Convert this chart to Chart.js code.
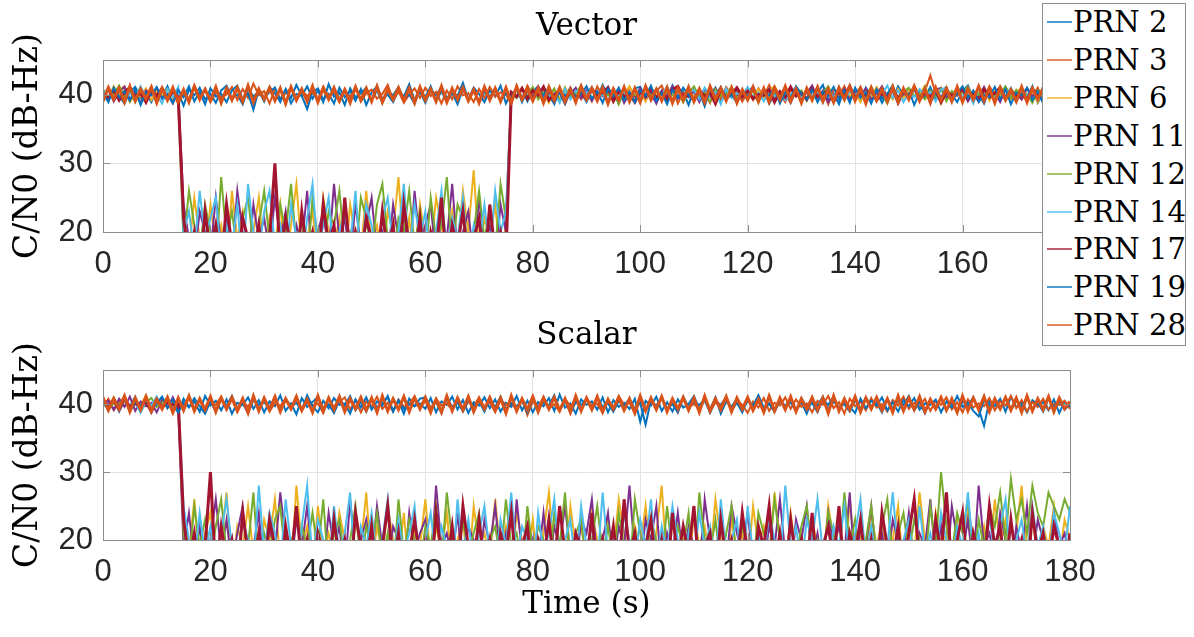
<!DOCTYPE html>
<html>
<head>
<meta charset="utf-8">
<script src="https://cdn.jsdelivr.net/npm/chart.js@4.4.1/dist/chart.umd.min.js"></script>
<style>
  html, body { margin: 0; padding: 0; background: #fff; }
  #page { position: relative; width: 1194px; height: 637px; overflow: hidden; }
  #vecWrap { position: absolute; left: 0; top: 0; width: 1194px; height: 290px; }
  #scaWrap { position: absolute; left: 0; top: 300px; width: 1194px; height: 337px; }
  #legend {
    position: absolute; left: 1042px; top: 3px; width: 144px; height: 343px;
    box-sizing: border-box; border: 1px solid #8c8c8c; background: #fff;
    font-family: 'DejaVu Serif', serif; font-size: 29px; color: #000;
  }
  .item { position: absolute; left: 0; height: 30px; display: flex; align-items: center; white-space: nowrap; }
  .swatch { width: 25px; height: 2px; margin-left: 4px; margin-right: 1px; opacity: 0.7; }
</style>
</head>
<body>
<div id="page">
  <div id="vecWrap"><canvas id="vecChart" width="1194" height="290"></canvas></div>
  <div id="scaWrap"><canvas id="scaChart" width="1194" height="337"></canvas></div>
  <div id="legend"></div>
</div>
<script>
// sample times (s)
const timeS = [
  0, 1, 2, 3, 4, 5, 6, 7, 8, 9,
  10, 11, 12, 13, 14, 15, 16, 17, 18, 19,
  20, 21, 22, 23, 24, 25, 26, 27, 28, 29,
  30, 31, 32, 33, 34, 35, 36, 37, 38, 39,
  40, 41, 42, 43, 44, 45, 46, 47, 48, 49,
  50, 51, 52, 53, 54, 55, 56, 57, 58, 59,
  60, 61, 62, 63, 64, 65, 66, 67, 68, 69,
  70, 71, 72, 73, 74, 75, 76, 77, 78, 79,
  80, 81, 82, 83, 84, 85, 86, 87, 88, 89,
  90, 91, 92, 93, 94, 95, 96, 97, 98, 99,
  100, 101, 102, 103, 104, 105, 106, 107, 108, 109,
  110, 111, 112, 113, 114, 115, 116, 117, 118, 119,
  120, 121, 122, 123, 124, 125, 126, 127, 128, 129,
  130, 131, 132, 133, 134, 135, 136, 137, 138, 139,
  140, 141, 142, 143, 144, 145, 146, 147, 148, 149,
  150, 151, 152, 153, 154, 155, 156, 157, 158, 159,
  160, 161, 162, 163, 164, 165, 166, 167, 168, 169,
  170, 171, 172, 173, 174, 175, 176, 177, 178, 179,
  180
];

const prnLabels = ['PRN 2', 'PRN 3', 'PRN 6', 'PRN 11', 'PRN 12', 'PRN 14', 'PRN 17', 'PRN 19', 'PRN 28'];
const prnColors = ['#0072BD', '#D95319', '#EDB120', '#7E2F8E', '#77AC30', '#4DBEEE', '#A2142F', '#0072BD', '#D95319'];
const prnWidths = [2, 2, 2, 2, 2, 2, 3, 2, 3];
const xTicks = [0, 20, 40, 60, 80, 100, 120, 140, 160, 180];
const yTicks = [20, 30, 40];

// ---- Vector tracking, C/N0 (dB-Hz) ----
const vecPrn2 = [
  40.6, 39.2, 40.9, 39.8, 38.7, 40.4, 41.1, 39.5, 40.2, 38.9,
  40.8, 39.6, 41.2, 39.1, 40.3, 38.4, 40.7, 39.9, 41.0, 39.3,
  40.1, 38.8, 40.6, 41.3, 39.4, 40.0, 38.6, 40.9, 39.7, 40.5,
  39.0, 41.1, 40.2, 38.9, 40.7, 39.5, 41.4, 39.8, 37.9, 40.4,
  40.9, 39.3, 40.1, 38.7, 41.0, 39.6, 40.5, 39.1, 40.8, 38.5,
  40.3, 41.2, 39.4, 40.0, 38.9, 40.6, 39.7, 41.5, 39.2, 40.4,
  38.8, 40.7, 39.9, 41.1, 39.5, 40.2, 38.6, 40.8, 39.3, 41.0,
  40.1, 38.9, 40.6, 39.7, 41.3, 38.7, 40.4, 39.6, 40.9, 39.0,
  40.5, 41.2, 39.4, 40.0, 38.6, 40.8, 39.8, 41.0, 39.1, 40.3,
  38.9, 40.7, 39.5, 41.4, 39.9, 40.2, 38.7, 40.6, 39.3, 40.9,
  41.1, 39.6, 40.0, 38.8, 40.5, 39.2, 41.3, 39.7, 40.4, 38.5,
  40.8, 39.4, 40.9, 39.9, 41.0, 38.9, 40.3, 39.6, 40.7, 39.1,
  40.2, 41.2, 39.5, 40.6, 38.7, 40.0, 39.8, 41.1, 39.3, 40.5,
  38.9, 40.8, 39.7, 40.3, 41.4, 39.2, 40.1, 38.6, 40.9, 39.5,
  40.4, 39.0, 41.0, 39.8, 40.6, 38.8, 40.2, 39.4, 41.2, 39.9,
  40.7, 38.5, 40.3, 39.6, 41.1, 39.2, 40.8, 39.7, 40.0, 38.9,
  40.5, 41.3, 39.4, 40.1, 38.7, 40.9, 39.8, 41.0, 39.3, 40.4,
  39.0, 40.6, 39.5, 41.2, 38.8, 40.2, 39.7, 40.8, 39.1, 40.5,
  39.8
];
const vecPrn3 = [
  39.7, 40.8, 39.3, 40.5, 41.2, 39.0, 40.1, 40.9, 38.8, 40.4,
  39.5, 41.0, 39.9, 40.6, 38.6, 40.2, 39.4, 41.3, 39.8, 40.7,
  38.9, 40.3, 39.6, 40.0, 41.1, 39.2, 40.8, 39.5, 41.6, 39.9,
  40.5, 38.7, 40.9, 39.4, 40.2, 41.0, 39.1, 40.6, 39.8, 40.3,
  39.3, 41.2, 39.7, 40.4, 38.9, 40.8, 39.6, 41.1, 39.0, 40.2,
  40.7, 39.4, 40.1, 41.4, 39.2, 40.5, 38.8, 40.0, 40.9, 39.5,
  41.0, 39.8, 40.4, 38.7, 40.6, 39.3, 41.2, 39.9, 40.2, 38.9,
  40.8, 39.5, 41.1, 39.7, 40.3, 40.0, 38.6, 40.9, 39.4, 41.3,
  39.9, 40.5, 38.8, 40.7, 39.6, 41.0, 39.2, 40.1, 40.8, 39.3,
  40.4, 39.0, 41.2, 39.8, 40.6, 38.9, 40.2, 39.5, 41.1, 39.7,
  40.0, 40.9, 39.1, 40.5, 41.3, 39.4, 40.7, 38.7, 40.3, 39.9,
  41.0, 39.6, 40.2, 38.8, 40.8, 39.3, 41.1, 39.9, 40.4, 39.0,
  40.6, 39.2, 40.9, 39.7, 41.4, 39.5, 40.1, 38.9, 40.7, 39.8,
  40.3, 39.4, 41.0, 39.6, 40.5, 38.6, 40.8, 39.9, 41.2, 39.3,
  40.0, 41.1, 39.5, 40.6, 39.0, 40.4, 39.8, 40.9, 38.7, 40.2,
  39.6, 41.3, 39.9, 40.5, 42.8, 40.1, 39.2, 40.7, 39.7, 41.0,
  39.4, 40.3, 38.9, 40.8, 39.6, 41.2, 39.9, 40.0, 41.1, 39.5,
  40.6, 39.3, 40.9, 39.8, 41.0, 39.1, 40.4, 39.7, 40.8, 39.5,
  40.2
];
const vecPrn6 = [
  40.3, 39.5, 41.2, 39.8, 40.6, 38.9, 40.1, 39.7, 40.9, 39.2,
  40.5, 39.9, 40.8, 39.4, 40.2, 22, 17, 25, 19, 16,
  24, 18, 21, 15, 26, 19, 23, 17, 20, 25,
  16, 22, 18, 24, 15, 21, 27, 17, 19, 23,
  16, 25, 20, 18, 22, 15, 24, 19, 17, 26,
  18, 21, 16, 23, 20, 28, 17, 22, 15, 24,
  19, 17, 25, 21, 16, 23, 18, 26, 20, 29,
  17, 22, 19, 24, 16, 21, 40.4, 39.6, 41.0, 39.3,
  40.7, 39.9, 40.2, 38.8, 40.5, 39.4, 41.1, 39.7, 40.0, 40.6,
  39.2, 40.8, 39.8, 40.3, 38.7, 40.9, 39.5, 40.1, 41.2, 39.6,
  40.4, 39.0, 40.7, 39.9, 40.2, 41.0, 39.3, 40.6, 38.9, 40.3,
  39.7, 40.9, 39.4, 40.5, 38.6, 40.1, 39.8, 41.1, 39.2, 40.4,
  40.0, 39.6, 40.8, 39.3, 40.6, 41.2, 39.9, 40.2, 38.8, 40.7,
  39.5, 40.4, 39.1, 40.9, 39.7, 40.1, 41.0, 39.4, 40.5, 39.8,
  40.3, 38.9, 40.7, 39.6, 41.1, 39.9, 40.2, 39.3, 40.8, 39.5,
  40.6, 39.7, 40.0, 41.3, 39.2, 40.4, 38.7, 40.9, 39.8, 40.1,
  39.4, 40.7, 39.9, 40.3, 41.0, 39.1, 40.5, 39.6, 40.8, 39.3,
  40.2, 41.1, 39.7, 40.4, 38.9, 40.6, 39.5, 40.9, 39.8, 40.0,
  40.3
];
const vecPrn11 = [
  39.6, 40.7, 39.0, 40.4, 41.1, 39.3, 40.2, 38.8, 40.6, 39.9,
  41.0, 39.4, 40.1, 38.7, 40.5, 24, 19, 16, 23, 20,
  17, 25, 18, 22, 16, 26, 20, 15, 24, 19,
  22, 17, 25, 19, 23, 16, 21, 18, 26, 15,
  20, 23, 17, 27, 19, 22, 16, 24, 18, 21,
  25, 17, 20, 16, 24, 19, 23, 15, 26, 18,
  21, 24, 16, 22, 19, 27, 17, 20, 23, 16,
  25, 18, 21, 15, 24, 20, 39.8, 40.9, 39.2, 40.5,
  39.6, 41.2, 39.9, 40.3, 38.9, 40.7, 39.4, 40.1, 41.0, 39.5,
  40.6, 39.1, 40.4, 39.8, 41.1, 39.3, 40.8, 38.8, 40.2, 39.7,
  40.9, 39.5, 40.3, 38.7, 40.6, 39.9, 41.2, 39.4, 40.0, 39.6,
  40.5, 38.9, 40.8, 39.7, 40.2, 41.0, 39.3, 40.6, 39.8, 40.1,
  39.4, 40.9, 39.1, 40.4, 39.8, 41.1, 39.6, 40.3, 38.8, 40.7,
  39.9, 40.2, 41.3, 39.5, 40.6, 38.9, 40.1, 39.7, 40.8, 39.2,
  40.4, 39.8, 40.9, 39.3, 40.0, 41.2, 39.6, 40.5, 38.7, 40.3,
  39.5, 40.8, 39.9, 40.1, 39.2, 40.7, 41.0, 39.4, 40.4, 39.8,
  40.6, 39.0, 40.3, 39.7, 41.1, 39.5, 40.2, 38.9, 40.8, 39.6,
  40.0, 39.3, 40.9, 39.8, 40.5, 39.1, 41.0, 39.7, 40.2, 39.4,
  40.6
];
const vecPrn12 = [
  40.8, 39.4, 40.1, 41.3, 39.7, 40.5, 38.9, 40.3, 39.6, 41.0,
  39.2, 40.6, 39.8, 40.9, 39.5, 18, 26, 21, 17, 24,
  20, 16, 28, 19, 23, 17, 22, 25, 18, 21,
  26, 19, 16, 24, 20, 27, 18, 22, 15, 25,
  19, 17, 23, 21, 26, 18, 20, 16, 25, 22,
  17, 24, 27, 19, 15, 22, 20, 26, 18, 23,
  16, 25, 19, 21, 28, 17, 24, 22, 18, 20,
  26, 19, 23, 17, 27, 22, 40.1, 39.5, 40.8, 39.9,
  41.1, 39.3, 40.4, 39.7, 40.9, 39.0, 40.6, 39.8, 40.2, 41.3,
  39.5, 40.7, 39.1, 40.3, 39.9, 40.8, 38.6, 40.5, 39.7, 40.0,
  39.4, 41.0, 39.8, 40.6, 39.2, 40.4, 39.9, 40.9, 38.9, 40.2,
  41.2, 39.6, 40.3, 39.0, 40.7, 39.8, 40.1, 41.1, 39.4, 40.6,
  39.7, 40.5, 38.8, 40.9, 39.5, 40.2, 39.9, 41.0, 39.3, 40.4,
  40.6, 39.1, 40.8, 39.7, 40.3, 41.2, 39.4, 40.0, 39.8, 40.7,
  39.2, 40.5, 39.9, 41.1, 39.6, 40.2, 38.7, 40.8, 39.5, 40.4,
  41.0, 39.8, 40.1, 39.3, 40.6, 39.7, 40.9, 39.0, 40.5, 39.9,
  40.3, 41.1, 39.6, 40.0, 39.4, 40.8, 39.8, 40.2, 41.2, 39.5,
  40.7, 39.9, 40.1, 38.8, 40.6, 39.7, 40.3, 41.0, 39.2, 40.5,
  39.8
];
const vecPrn14 = [
  39.8, 41.0, 39.3, 40.6, 38.9, 40.2, 39.7, 41.2, 39.5, 40.4,
  40.0, 38.7, 40.8, 39.6, 41.1, 20, 23, 17, 26, 19,
  22, 25, 16, 21, 18, 24, 15, 27, 20, 17,
  23, 26, 18, 21, 16, 24, 19, 15, 22, 27,
  17, 21, 25, 16, 20, 23, 18, 26, 15, 24,
  21, 16, 22, 25, 18, 20, 27, 17, 24, 19,
  23, 15, 20, 26, 17, 22, 19, 25, 16, 21,
  18, 24, 17, 26, 20, 23, 39.4, 40.7, 39.8, 40.3,
  39.1, 40.5, 41.0, 39.6, 40.2, 38.8, 40.9, 39.3, 40.6, 39.9,
  40.3, 41.1, 39.5, 40.0, 39.2, 40.7, 39.8, 40.4, 38.9, 41.0,
  39.7, 40.2, 39.4, 40.8, 39.9, 41.2, 39.1, 40.5, 39.6, 40.1,
  40.7, 39.3, 41.0, 39.8, 40.4, 38.6, 40.9, 39.5, 40.2, 39.9,
  41.1, 39.6, 40.3, 39.0, 40.8, 39.7, 40.5, 39.2, 40.0, 41.0,
  39.4, 40.6, 39.9, 40.2, 38.8, 40.7, 39.6, 41.1, 39.3, 40.4,
  39.8, 40.9, 39.2, 40.5, 39.7, 40.1, 41.3, 39.5, 40.6, 38.9,
  40.2, 39.6, 40.8, 39.9, 40.4, 39.0, 40.7, 41.1, 39.4, 40.3,
  39.7, 40.5, 38.7, 40.9, 39.8, 40.2, 39.3, 40.6, 39.9, 41.0,
  39.5, 40.3, 39.8, 40.7, 39.2, 41.2, 39.6, 40.4, 38.6, 40.8,
  39.9
];
const vecPrn17 = [
  40.1, 39.5, 40.7, 39.2, 40.4, 41.0, 39.7, 40.2, 38.9, 40.6,
  39.8, 40.9, 39.3, 40.5, 39.6, 22, 16, 20, 14, 23,
  17, 21, 15, 24, 18, 14, 22, 19, 16, 21,
  15, 19, 30, 16, 22, 18, 14, 23, 17, 20,
  15, 24, 18, 21, 14, 25, 17, 20, 16, 22,
  19, 15, 23, 17, 21, 14, 24, 18, 16, 22,
  14, 20, 17, 25, 15, 21, 18, 23, 16, 19,
  22, 15, 24, 17, 20, 16, 40.3, 39.7, 40.9, 39.4,
  40.6, 39.9, 41.1, 39.2, 40.0, 40.5, 38.8, 40.7, 39.6, 40.2,
  39.4, 40.8, 39.9, 40.3, 41.0, 39.1, 40.6, 39.7, 40.1, 38.9,
  40.4, 39.8, 40.9, 39.5, 40.2, 39.3, 40.7, 41.2, 39.6, 40.0,
  39.2, 40.6, 39.8, 40.3, 38.7, 40.8, 39.5, 40.1, 41.0, 39.7,
  40.5, 39.4, 40.0, 39.9, 40.7, 38.9, 40.4, 39.6, 41.1, 39.8,
  40.2, 39.3, 40.8, 39.7, 40.1, 40.6, 39.0, 40.4, 39.8, 41.2,
  39.5, 40.3, 39.9, 40.7, 39.2, 40.0, 39.6, 40.9, 39.4, 40.5,
  39.8, 41.0, 39.3, 40.2, 39.7, 40.6, 38.9, 40.4, 39.9, 40.1,
  40.8, 39.5, 40.3, 39.1, 40.7, 39.9, 40.2, 41.0, 39.4, 40.6,
  39.7, 40.0, 39.3, 40.8, 39.9, 40.4, 39.6, 40.9, 39.2, 40.3,
  39.8
];
const vecPrn19 = [
  40.2, 38.9, 41.0, 39.6, 40.5, 39.1, 40.8, 38.5, 40.3, 39.9,
  41.1, 39.4, 40.0, 38.8, 40.7, 39.6, 41.2, 39.0, 40.4, 38.6,
  40.9, 39.7, 40.1, 38.9, 40.6, 41.3, 39.3, 40.2, 37.8, 40.7,
  39.5, 40.4, 41.0, 39.2, 40.8, 38.7, 40.1, 39.8, 41.2, 39.4,
  40.6, 38.9, 41.5, 39.7, 40.3, 38.5, 40.9, 39.6, 40.2, 41.0,
  39.1, 40.7, 38.8, 40.4, 39.9, 41.1, 39.3, 40.0, 38.7, 40.8,
  39.6, 41.2, 39.0, 40.5, 38.9, 40.3, 39.8, 41.7, 39.2, 40.6,
  38.8, 40.4, 39.7, 40.9, 39.1, 40.2, 39.5, 41.0, 38.9, 40.7,
  39.3, 40.6, 39.9, 41.1, 39.0, 40.3, 38.7, 40.8, 39.6, 40.1,
  41.2, 39.4, 40.5, 38.8, 40.9, 39.7, 41.0, 39.2, 40.4, 38.9,
  40.6, 39.8, 41.3, 39.1, 40.2, 38.6, 40.7, 39.5, 41.0, 39.9,
  39.2, 40.5, 38.3, 40.8, 39.6, 41.1, 39.4, 40.0, 38.8, 40.6,
  39.7, 41.0, 39.0, 40.4, 39.9, 40.9, 38.7, 40.3, 39.5, 41.2,
  40.1, 39.3, 40.7, 38.9, 40.4, 39.8, 41.1, 39.2, 40.6, 38.8,
  41.0, 39.6, 40.3, 38.7, 40.8, 39.4, 40.1, 41.3, 39.0, 40.5,
  39.9, 40.7, 39.3, 41.0, 38.8, 40.4, 39.6, 40.9, 39.1, 40.2,
  41.2, 39.5, 40.6, 38.9, 40.0, 39.7, 41.1, 39.3, 40.8, 38.6,
  40.3, 39.9, 41.0, 39.2, 40.5, 38.7, 40.9, 39.6, 40.1, 39.4,
  40.6
];
const vecPrn28 = [
  39.0, 41.0, 39.3, 40.9, 38.9, 41.2, 39.1, 40.8, 39.4, 41.1,
  38.8, 40.9, 39.2, 41.0, 39.0, 40.7, 38.9, 41.2, 39.3, 40.8,
  39.1, 41.1, 38.8, 40.9, 39.2, 41.0, 39.0, 41.3, 38.9, 40.8,
  39.3, 41.0, 39.1, 40.9, 38.7, 41.1, 39.2, 40.8, 39.0, 41.2,
  38.9, 40.9, 39.3, 41.0, 39.1, 40.7, 38.8, 41.1, 39.2, 40.9,
  39.0, 41.2, 38.9, 40.8, 39.3, 41.0, 39.1, 40.9, 38.8, 41.1,
  39.2, 40.8, 39.0, 41.2, 38.9, 40.9, 39.3, 41.0, 39.1, 40.7,
  38.8, 41.1, 39.2, 40.9, 39.0, 41.0, 38.9, 41.2, 39.3, 40.8,
  39.1, 40.9, 38.8, 41.1, 39.2, 41.0, 39.0, 40.8, 38.9, 41.2,
  39.3, 40.9, 39.1, 41.0, 38.7, 40.8, 39.2, 41.1, 39.0, 40.9,
  38.9, 41.2, 39.3, 40.8, 39.1, 41.0, 38.8, 40.9, 39.2, 41.1,
  39.0, 40.8, 38.9, 41.2, 39.3, 40.9, 39.1, 41.0, 38.8, 40.7,
  39.2, 41.1, 39.0, 40.9, 38.9, 41.0, 39.3, 41.2, 39.1, 40.8,
  38.8, 40.9, 39.2, 41.1, 39.0, 40.8, 38.9, 41.0, 39.3, 41.2,
  39.1, 40.9, 38.7, 41.0, 39.2, 40.8, 39.0, 41.1, 38.9, 40.9,
  39.3, 41.2, 39.1, 40.8, 38.8, 41.0, 39.2, 40.9, 39.0, 41.1,
  38.9, 40.8, 39.3, 41.2, 39.1, 40.9, 38.8, 41.0, 39.2, 40.7,
  39.0, 41.1, 38.9, 40.9, 39.3, 41.0, 39.1, 40.8, 38.8, 41.2,
  39.6
];

// ---- Scalar tracking, C/N0 (dB-Hz) ----
const scaPrn2 = [
  40.2, 39.4, 40.9, 38.9, 40.5, 39.7, 41.1, 39.2, 40.6, 38.8,
  40.3, 41.0, 39.5, 40.1, 38.7, 40.8, 39.6, 40.4, 38.9, 41.2,
  39.8, 40.5, 39.1, 40.7, 38.6, 40.2, 39.9, 41.0, 39.3, 40.6,
  38.8, 40.4, 39.7, 41.3, 39.0, 40.1, 38.5, 40.9, 39.6, 40.3,
  41.1, 39.4, 40.0, 38.7, 40.6, 39.8, 41.2, 39.1, 40.4, 38.9,
  40.7, 39.5, 40.2, 41.0, 39.0, 40.5, 38.6, 40.8, 39.7, 40.1,
  39.3, 40.9, 38.8, 40.4, 39.9, 41.1, 39.2, 40.6, 38.7, 40.3,
  39.8, 41.0, 39.4, 40.7, 38.9, 40.2, 39.6, 41.2, 39.1, 40.5,
  38.8, 40.3, 39.7, 40.9, 39.0, 41.4, 39.5, 40.1, 38.6, 40.7,
  39.9, 40.4, 39.2, 41.0, 38.8, 40.6, 39.6, 40.2, 39.3, 40.8,
  37.4, 40.5, 39.8, 41.1, 39.0, 40.3, 38.9, 40.7, 39.5, 40.0,
  41.2, 39.3, 40.6, 38.7, 40.4, 39.9, 41.0, 39.1, 40.2, 38.8,
  40.8, 39.6, 41.3, 39.4, 40.1, 38.9, 40.5, 39.7, 40.9, 39.0,
  40.3, 38.6, 40.7, 39.8, 41.1, 39.2, 40.4, 39.5, 40.0, 38.9,
  40.6, 39.3, 41.0, 39.7, 40.2, 38.8, 40.8, 39.4, 40.5, 39.9,
  41.2, 39.1, 40.3, 38.7, 40.6, 39.6, 40.9, 39.2, 40.1, 38.9,
  40.4, 39.8, 41.0, 39.3, 36.8, 40.5, 39.7, 40.8, 38.9, 41.1,
  39.5, 40.2, 38.8, 40.6, 39.9, 40.3, 39.1, 40.7, 38.7, 40.4,
  39.6
];
const scaPrn3 = [
  39.6, 40.8, 39.1, 40.3, 41.0, 39.5, 40.6, 38.9, 40.2, 39.8,
  40.9, 39.3, 40.5, 38.7, 40.1, 39.7, 41.2, 39.4, 40.6, 38.9,
  40.3, 39.9, 41.1, 39.2, 40.7, 38.8, 40.4, 39.6, 41.0, 39.3,
  40.6, 38.9, 40.2, 39.7, 40.8, 39.4, 41.3, 39.0, 40.5, 39.8,
  40.1, 38.7, 40.9, 39.5, 40.3, 41.0, 39.2, 40.6, 38.8, 40.4,
  39.7, 41.1, 39.3, 40.2, 38.9, 40.7, 39.6, 40.0, 41.2, 39.4,
  40.5, 38.6, 40.8, 39.8, 40.1, 39.2, 40.9, 38.9, 40.4, 39.7,
  41.0, 39.5, 40.3, 38.8, 40.6, 39.9, 40.2, 39.1, 40.7, 38.4,
  40.4, 39.6, 41.1, 39.3, 40.0, 38.9, 40.8, 39.7, 40.5, 39.2,
  40.9, 39.8, 40.1, 38.7, 40.6, 39.4, 41.2, 39.9, 40.3, 38.5,
  40.7, 39.3, 40.2, 39.8, 41.0, 39.1, 40.5, 38.8, 40.9, 39.6,
  40.0, 39.4, 40.8, 38.9, 40.3, 39.7, 41.1, 39.2, 40.6, 39.9,
  38.7, 40.4, 39.5, 40.9, 39.0, 40.2, 39.8, 41.0, 39.3, 40.7,
  39.6, 40.1, 38.8, 40.5, 39.9, 41.2, 39.4, 40.3, 38.6, 40.8,
  39.7, 40.4, 39.1, 40.9, 39.5, 40.0, 38.9, 40.6, 39.8, 41.1,
  39.3, 40.2, 39.6, 40.8, 39.0, 40.5, 39.9, 41.0, 39.2, 40.3,
  38.8, 40.7, 39.5, 40.1, 39.7, 40.9, 39.1, 40.4, 39.8, 41.2,
  39.4, 40.6, 38.9, 40.3, 39.6, 40.8, 39.2, 40.0, 39.9, 40.5,
  39.3
];
const scaPrn6 = [
  40.4, 39.7, 41.0, 39.3, 40.6, 38.9, 40.2, 39.8, 41.3, 39.5,
  40.1, 40.7, 39.4, 40.3, 39.9, 23, 18, 26, 16, 21,
  24, 17, 20, 27, 15, 22, 19, 25, 18, 16,
  23, 20, 26, 17, 21, 15, 28, 19, 22, 16,
  25, 18, 21, 17, 24, 20, 15, 23, 19, 27,
  16, 22, 18, 25, 20, 17, 24, 15, 21, 19,
  26, 17, 22, 18, 24, 16, 20, 23, 15, 25,
  19, 21, 17, 26, 18, 22, 16, 24, 20, 17,
  23, 15, 21, 27, 18, 20, 16, 25, 19, 22,
  17, 24, 20, 15, 23, 18, 26, 21, 16, 22,
  19, 25, 17, 21, 28, 16, 23, 18, 20, 15,
  24, 19, 22, 17, 26, 20, 15, 23, 18, 21,
  16, 25, 19, 22, 17, 27, 20, 15, 24, 18,
  21, 17, 23, 19, 16, 25, 20, 22, 15, 26,
  18, 21, 16, 24, 19, 23, 17, 20, 25, 15,
  22, 18, 27, 20, 16, 24, 19, 21, 17, 23,
  15, 25, 20, 18, 22, 16, 26, 19, 23, 17,
  21, 28, 18, 24, 16, 22, 19, 25, 17, 23,
  20
];
const scaPrn11 = [
  39.9, 40.5, 39.2, 40.8, 39.6, 41.1, 39.0, 40.4, 39.7, 40.2,
  38.8, 40.6, 39.5, 41.0, 39.3, 19, 24, 17, 22, 15,
  20, 26, 18, 23, 16, 21, 25, 17, 19, 24,
  15, 22, 18, 27, 20, 16, 23, 19, 25, 17,
  21, 16, 24, 19, 22, 15, 26, 18, 20, 23,
  17, 25, 19, 16, 22, 20, 15, 24, 18, 21,
  23, 16, 28, 19, 21, 17, 24, 15, 22, 20,
  16, 23, 19, 25, 17, 21, 15, 26, 18, 22,
  20, 17, 24, 16, 22, 19, 25, 18, 15, 23,
  21, 26, 17, 20, 24, 16, 22, 19, 28, 18,
  16, 23, 20, 25, 15, 21, 18, 24, 17, 22,
  19, 15, 26, 20, 17, 23, 16, 25, 21, 18,
  24, 17, 20, 16, 22, 19, 26, 18, 15, 23,
  20, 25, 17, 21, 16, 24, 19, 22, 18, 27,
  15, 22, 19, 25, 17, 21, 16, 23, 20, 18,
  24, 16, 21, 19, 26, 17, 22, 15, 25, 20,
  18, 23, 16, 28, 19, 21, 17, 24, 20, 15,
  22, 18, 25, 17, 23, 20, 16, 24, 19, 21,
  17
];
const scaPrn12 = [
  40.6, 39.3, 40.1, 39.8, 41.2, 39.5, 40.7, 38.9, 40.3, 40.9,
  39.6, 40.2, 41.0, 39.4, 40.5, 21, 16, 25, 19, 23,
  17, 22, 26, 18, 20, 15, 24, 19, 27, 16,
  21, 18, 23, 25, 17, 20, 16, 22, 19, 24,
  18, 26, 15, 21, 23, 17, 20, 25, 16, 22,
  19, 24, 17, 21, 15, 26, 18, 23, 20, 16,
  22, 19, 25, 17, 27, 20, 16, 23, 18, 21,
  24, 15, 20, 22, 17, 26, 19, 21, 16, 25,
  18, 22, 20, 15, 24, 19, 27, 17, 21, 23,
  16, 20, 25, 18, 22, 17, 24, 19, 15, 26,
  21, 17, 23, 20, 16, 25, 18, 22, 19, 24,
  15, 27, 20, 18, 23, 16, 21, 25, 17, 22,
  19, 16, 24, 21, 18, 26, 20, 15, 23, 17,
  22, 25, 18, 20, 16, 24, 21, 17, 27, 19,
  23, 16, 20, 25, 18, 22, 26, 17, 21, 24,
  18, 23, 20, 16, 25, 19, 30, 22, 18, 24,
  21, 26, 17, 23, 19, 25, 22, 27, 20, 29,
  23, 26, 21, 28, 24, 22, 27, 25, 23, 26,
  24
];
const scaPrn14 = [
  40.0, 39.4, 40.7, 39.1, 40.9, 39.6, 40.3, 38.7, 40.5, 39.8,
  41.1, 39.5, 40.2, 39.7, 40.4, 25, 20, 17, 24, 18,
  22, 15, 21, 26, 19, 17, 23, 20, 16, 28,
  18, 24, 21, 16, 26, 19, 15, 22, 28, 17,
  23, 20, 16, 25, 18, 21, 27, 15, 22, 19,
  24, 17, 20, 26, 16, 23, 18, 21, 25, 15,
  20, 24, 17, 22, 19, 15, 26, 18, 23, 16,
  21, 25, 18, 16, 23, 19, 27, 17, 22, 20,
  15, 24, 18, 21, 26, 17, 20, 23, 16, 25,
  19, 22, 16, 27, 18, 21, 15, 24, 20, 17,
  23, 19, 26, 16, 22, 18, 25, 20, 15, 21,
  17, 24, 19, 22, 16, 26, 18, 20, 23, 15,
  25, 18, 21, 17, 24, 20, 16, 28, 19, 22,
  16, 23, 20, 26, 18, 15, 22, 19, 25, 17,
  21, 26, 17, 22, 16, 24, 19, 27, 18, 20,
  23, 15, 25, 18, 21, 17, 24, 20, 16, 22,
  19, 27, 18, 21, 15, 24, 17, 22, 26, 16,
  20, 23, 17, 25, 19, 22, 16, 24, 21, 18,
  25
];
const scaPrn17 = [
  40.3, 39.8, 40.6, 39.2, 40.9, 39.5, 40.1, 39.7, 40.4, 38.9,
  40.7, 39.6, 40.2, 39.9, 40.5, 23, 17, 21, 14, 19,
  30, 15, 22, 17, 20, 14, 24, 18, 16, 21,
  15, 23, 19, 14, 22, 17, 25, 16, 20, 14,
  21, 18, 15, 23, 17, 20, 14, 24, 19, 16,
  22, 15, 19, 25, 16, 21, 14, 18, 23, 17,
  20, 14, 24, 18, 16, 22, 15, 25, 19, 17,
  23, 16, 20, 14, 21, 18, 24, 15, 19, 22,
  14, 20, 17, 23, 16, 25, 18, 15, 21, 19,
  16, 24, 14, 20, 17, 22, 15, 26, 18, 21,
  15, 19, 23, 16, 20, 14, 24, 17, 22, 18,
  25, 15, 19, 21, 14, 23, 17, 20, 16, 24,
  18, 14, 22, 19, 25, 16, 21, 15, 23, 17,
  20, 16, 24, 14, 19, 22, 17, 25, 15, 21,
  18, 23, 16, 20, 14, 24, 19, 17, 22, 15,
  21, 26, 17, 19, 15, 23, 18, 27, 16, 20,
  24, 14, 21, 18, 16, 25, 19, 22, 15, 23,
  17, 20, 14, 24, 18, 21, 16, 22, 19, 15,
  21
];
const scaPrn19 = [
  40.5, 39.1, 40.8, 39.6, 41.0, 38.9, 40.3, 39.8, 40.6, 39.2,
  40.0, 41.1, 39.4, 40.7, 38.8, 40.2, 39.5, 40.9, 39.7, 38.6,
  40.4, 39.0, 40.7, 39.8, 41.2, 39.3, 40.1, 38.7, 40.6, 39.9,
  40.3, 39.5, 41.0, 38.9, 40.8, 39.6, 40.2, 39.1, 41.3, 39.7,
  38.8, 40.5, 39.4, 40.9, 39.9, 40.1, 38.6, 40.7, 39.5, 41.0,
  39.2, 40.4, 39.8, 41.2, 38.9, 40.6, 39.3, 40.0, 39.7, 40.8,
  41.0, 39.4, 40.3, 38.7, 40.9, 39.6, 40.2, 39.0, 40.6, 39.8,
  40.4, 38.9, 40.8, 39.5, 41.1, 39.2, 40.1, 39.7, 40.5, 38.8,
  40.9, 39.4, 40.2, 39.8, 41.3, 39.1, 40.6, 38.7, 40.3, 39.9,
  40.7, 39.2, 41.0, 39.6, 40.1, 38.9, 40.5, 39.8, 40.8, 39.3,
  40.2, 37.0, 40.6, 39.7, 40.9, 39.4, 40.0, 38.8, 41.1, 39.5,
  40.3, 39.9, 40.7, 39.2, 41.0, 38.6, 40.4, 39.6, 40.8, 39.1,
  40.5, 39.8, 41.2, 39.3, 40.1, 38.9, 40.6, 39.7, 40.3, 39.0,
  40.9, 39.5, 40.2, 38.8, 40.7, 39.9, 41.1, 39.3, 40.4, 39.6,
  38.7, 40.8, 39.4, 40.5, 39.8, 41.0, 39.1, 40.3, 38.9, 40.6,
  39.7, 40.9, 39.2, 40.1, 39.9, 40.7, 38.8, 40.4, 39.5, 41.2,
  39.6, 40.2, 39.0, 38.2, 40.6, 39.8, 40.3, 39.4, 40.9, 39.1,
  40.5, 39.7, 41.0, 39.3, 40.2, 38.9, 40.8, 39.6, 40.4, 39.2,
  40.0
];
const scaPrn28 = [
  41.0, 39.1, 40.8, 39.3, 41.2, 38.9, 40.9, 39.2, 41.1, 39.0,
  40.7, 39.3, 41.0, 38.8, 40.9, 39.1, 41.2, 39.0, 40.8, 39.2,
  41.1, 38.9, 40.9, 39.3, 41.0, 39.1, 40.8, 38.7, 41.2, 39.0,
  40.9, 39.2, 41.1, 38.9, 40.8, 39.3, 41.0, 39.1, 40.7, 38.8,
  41.2, 39.0, 40.9, 39.2, 41.1, 38.9, 40.8, 39.3, 41.0, 39.1,
  40.9, 38.8, 41.2, 39.0, 40.8, 39.2, 41.1, 38.9, 40.9, 39.3,
  41.0, 39.1, 40.7, 38.8, 41.2, 39.0, 40.9, 39.2, 41.1, 38.9,
  40.8, 39.3, 41.0, 39.1, 40.9, 38.7, 41.2, 39.0, 40.8, 39.2,
  41.1, 38.9, 40.9, 39.3, 41.0, 39.1, 40.8, 38.8, 41.2, 39.0,
  40.9, 39.2, 41.1, 38.9, 40.7, 39.3, 41.0, 39.1, 40.8, 38.8,
  41.2, 39.0, 40.9, 39.2, 41.1, 38.9, 40.8, 39.3, 41.0, 39.1,
  40.9, 38.8, 41.2, 39.0, 40.8, 39.2, 41.1, 38.9, 40.9, 39.3,
  41.0, 39.1, 40.7, 38.8, 41.2, 39.0, 40.9, 39.2, 41.1, 38.9,
  40.8, 39.3, 41.0, 39.1, 40.9, 38.7, 41.2, 39.0, 40.8, 39.2,
  41.1, 38.9, 40.9, 39.3, 41.0, 39.1, 40.8, 38.8, 41.2, 39.0,
  40.9, 39.2, 41.1, 38.9, 40.7, 39.3, 41.0, 39.1, 40.8, 38.8,
  41.2, 39.0, 40.9, 39.2, 41.1, 38.9, 40.8, 39.3, 41.0, 39.1,
  40.9, 38.8, 41.2, 39.0, 40.8, 39.2, 41.1, 38.9, 40.9, 39.3,
  40.4
];

const vectorSeries = [vecPrn2, vecPrn3, vecPrn6, vecPrn11, vecPrn12, vecPrn14, vecPrn17, vecPrn19, vecPrn28];
const scalarSeries = [scaPrn2, scaPrn3, scaPrn6, scaPrn11, scaPrn12, scaPrn14, scaPrn17, scaPrn19, scaPrn28];

const tickFont = { family: 'Liberation Sans', size: 31, lineHeight: 1 };
const serifFont = { family: 'DejaVu Serif', size: 31, weight: 'normal' };
const yTitleFont = { family: 'DejaVu Serif', size: 33, weight: 'normal' };
const boxColor = '#8c8c8c';

function toPoints(values) {
  return timeS.map((t, i) => ({ x: t, y: values[i] }));
}

function buildDatasets(seriesList) {
  return seriesList.map((values, i) => ({
    label: prnLabels[i],
    data: toPoints(values),
    borderColor: prnColors[i],
    borderWidth: prnWidths[i],
    pointRadius: 0,
    tension: 0,
    clip: 0,
    order: seriesList.length - i // later PRNs drawn on top, like MATLAB
  }));
}

// axes box with inward tick marks
const boxPlugin = {
  id: 'axesBox',
  afterDatasetsDraw(chart) {
    const { ctx, chartArea: a, scales } = chart;
    ctx.save();
    ctx.strokeStyle = boxColor;
    ctx.lineWidth = 1;
    ctx.strokeRect(Math.round(a.left) + 0.5, Math.round(a.top) + 0.5,
      Math.round(a.right - a.left), Math.round(a.bottom - a.top));
    ctx.beginPath();
    xTicks.forEach(v => {
      const px = Math.round(scales.x.getPixelForValue(v)) + 0.5;
      ctx.moveTo(px, a.top); ctx.lineTo(px, a.top + 7);
      ctx.moveTo(px, a.bottom); ctx.lineTo(px, a.bottom - 7);
    });
    yTicks.forEach(v => {
      const py = Math.round(scales.y.getPixelForValue(v)) + 0.5;
      ctx.moveTo(a.left, py); ctx.lineTo(a.left + 7, py);
      ctx.moveTo(a.right, py); ctx.lineTo(a.right - 7, py);
    });
    ctx.stroke();
    ctx.restore();
  }
};

function makeChart(canvasId, seriesList, titleText, opts) {
  return new Chart(document.getElementById(canvasId), {
    type: 'line',
    data: { datasets: buildDatasets(seriesList) },
    options: {
      responsive: false,
      animation: false,
      events: [],
      layout: { padding: { left: 0, right: 124, top: 0, bottom: 0 } },
      plugins: {
        legend: { display: false },
        tooltip: { enabled: false },
        title: {
          display: true,
          text: titleText,
          fullSize: false,
          color: '#000',
          font: serifFont,
          padding: { top: opts.titleTop, bottom: opts.titleBottom }
        }
      },
      scales: {
        x: {
          type: 'linear',
          min: 0,
          max: 180,
          afterBuildTicks: s => { s.ticks = xTicks.map(v => ({ value: v })); },
          afterFit: s => { s.height = opts.xHeight; },
          grid: { color: '#e3e3e3', drawTicks: false },
          border: { display: false },
          ticks: { font: tickFont, color: '#262626', padding: 17, maxRotation: 0, autoSkip: false },
          title: {
            display: opts.xTitle,
            text: 'Time (s)',
            color: '#000',
            font: serifFont,
            padding: { top: 0, bottom: 13 }
          }
        },
        y: {
          min: 20,
          max: 45,
          afterBuildTicks: s => { s.ticks = yTicks.map(v => ({ value: v })); },
          afterFit: s => { s.width = 103; },
          grid: { color: '#e3e3e3', drawTicks: false },
          border: { display: false },
          ticks: { font: tickFont, color: '#262626', padding: 10 },
          title: {
            display: true,
            text: 'C/N0 (dB-Hz)',
            color: '#000',
            font: yTitleFont,
            padding: { top: 9, bottom: 0 }
          }
        }
      }
    },
    plugins: [boxPlugin]
  });
}

const vecChart = makeChart('vecChart', vectorSeries, 'Vector',
  { titleTop: 8, titleBottom: 15, xHeight: 58, xTitle: false });
const scaChart = makeChart('scaChart', scalarSeries, 'Scalar',
  { titleTop: 17, titleBottom: 16, xHeight: 97, xTitle: true });

// legend box built from the chart datasets
const legendEl = document.getElementById('legend');
vecChart.data.datasets.forEach((ds, i) => {
  const row = document.createElement('div');
  row.className = 'item';
  row.style.top = (3 + i * 37.9) + 'px';
  const sw = document.createElement('div');
  sw.className = 'swatch';
  sw.style.background = prnColors[i];
  const txt = document.createElement('span');
  txt.textContent = ds.label;
  row.appendChild(sw);
  row.appendChild(txt);
  legendEl.appendChild(row);
});
</script>
</body>
</html>
